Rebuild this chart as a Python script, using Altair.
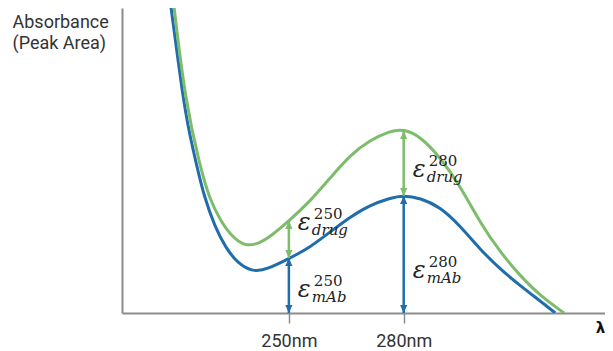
import altair as alt
import pandas as pd

# ---- data ----
wavelength_mab = [219.2, 222.4, 224.0, 226.0, 227.9, 230.7, 233.4, 236.5, 240.7, 244.3,
                  250.3, 255.6, 260.8, 266.0, 271.2, 276.5, 279.9, 284.3, 289.5, 294.8,
                  300.0, 305.2, 310.5, 315.7, 319.6]
absorbance_mab = [100.3, 69.8, 59.0, 47.9, 38.0, 28.2, 21.6, 16.4, 13.4, 14.3,
                  18.0, 21.6, 26.6, 31.5, 35.4, 37.7, 38.6, 37.7, 34.8, 28.5,
                  20.8, 14.4, 8.9, 3.9, 0.0]

wavelength_adc = [220.0, 222.9, 226.8, 229.4, 232.1, 234.7, 238.6, 242.5, 245.1,
                  250.3, 255.6, 260.8, 266.0, 271.2, 276.5, 279.9, 284.3, 289.5,
                  294.8, 300.0, 305.2, 310.5, 315.7, 321.9]
absorbance_adc = [100.3, 69.8, 47.9, 37.0, 30.5, 25.6, 21.6, 23.0, 25.0,
                  30.5, 36.7, 44.3, 51.8, 56.7, 59.7, 60.3, 58.0, 51.1,
                  41.6, 29.5, 20.0, 12.1, 5.6, 0.0]

arrow_wavelength = [250, 250, 280, 280]
arrow_from = [0.0, 18.0, 0.0, 38.4]
arrow_to = [18.0, 30.2, 38.4, 59.7]
arrow_series = ["mAb", "drug", "mAb", "drug"]

label_wavelength = [250, 250, 280, 280]
label_y = [27.2, 5.2, 44.6, 11.5]
label_sup = ["250", "250", "280", "280"]
label_sub = ["drug", "mAb", "drug", "mAb"]

tick_values = [250, 280]

BLUE = "#1f6dab"
GREEN = "#7dbc6b"
AXIS_GREY = "#8c8c8c"
MATH_FONT = "DejaVu Serif"

curves = pd.concat([
    pd.DataFrame({"wl": wavelength_mab, "abs": absorbance_mab, "series": "mAb", "order": 0}),
    pd.DataFrame({"wl": wavelength_adc, "abs": absorbance_adc, "series": "drug", "order": 1}),
])
arrows = pd.DataFrame({"wl": arrow_wavelength, "y0": arrow_from, "y1": arrow_to,
                       "series": arrow_series})
labels = pd.DataFrame({"wl": label_wavelength, "y": label_y, "eps": "ε",
                       "sup": label_sup, "sub": label_sub})

xscale = alt.Scale(domain=[206.4, 332.6], nice=False, zero=False)
yscale = alt.Scale(domain=[0, 100], nice=False)
color = alt.Color("series:N", scale=alt.Scale(domain=["mAb", "drug"], range=[BLUE, GREEN]),
                  legend=None)

xaxis = alt.Axis(values=tick_values, labelExpr="datum.value + 'nm'", grid=False,
                 tickSize=10, tickColor=AXIS_GREY, tickWidth=1.5,
                 domainColor=AXIS_GREY, domainWidth=2,
                 labelFont="Roboto", labelFontSize=18, labelColor="#333333", labelPadding=9,
                 title="λ", titleX=478, titleY=19, titleAlign="center",
                 titleBaseline="alphabetic", titleFontSize=15, titleFontWeight="bold",
                 titleColor="#111111", titleFont="DejaVu Sans")
yaxis = alt.Axis(ticks=False, labels=False, grid=False,
                 domainColor=AXIS_GREY, domainWidth=2,
                 title=["Absorbance", "(Peak Area)"], titleAngle=0, titleAlign="left",
                 titleBaseline="alphabetic", titleX=-110, titleY=19,
                 titleFont="Roboto", titleFontSize=18, titleFontWeight="normal",
                 titleColor="#333333", titleLineHeight=21)

x = alt.X("wl:Q", scale=xscale, axis=xaxis)
y = alt.Y("abs:Q", scale=yscale, axis=yaxis)

lines = alt.Chart(curves).mark_line(interpolate="basis", strokeWidth=3, clip=True).encode(
    x=x, y=y, color=color, detail="series:N", order="order:Q"
)

rules = alt.Chart(arrows).mark_rule(strokeWidth=2.5).encode(
    x=alt.X("wl:Q", scale=xscale), y=alt.Y("y0:Q", scale=yscale), y2="y1:Q", color=color
)
head_up = alt.Chart(arrows).mark_point(shape="M0,0L-0.45,1L0.45,1Z", filled=True,
                                       size=256, opacity=1).encode(
    x=alt.X("wl:Q", scale=xscale), y=alt.Y("y1:Q", scale=yscale), color=color
)
head_down = alt.Chart(arrows).mark_point(shape="M0,0L-0.45,-1L0.45,-1Z", filled=True,
                                         size=256, opacity=1).encode(
    x=alt.X("wl:Q", scale=xscale), y=alt.Y("y0:Q", scale=yscale), color=color
)

eps = alt.Chart(labels).mark_text(align="left", baseline="alphabetic", dx=9,
                                  font=MATH_FONT, fontStyle="italic",
                                  fontSize=24, color="#222222").encode(
    x=alt.X("wl:Q", scale=xscale), y=alt.Y("y:Q", scale=yscale), text="eps:N"
)
sup = alt.Chart(labels).mark_text(align="left", baseline="alphabetic", dx=25, dy=-11,
                                  font=MATH_FONT, fontSize=15,
                                  color="#222222").encode(
    x=alt.X("wl:Q", scale=xscale), y=alt.Y("y:Q", scale=yscale), text="sup:N"
)
sub = alt.Chart(labels).mark_text(align="left", baseline="alphabetic", dx=23, dy=5,
                                  font=MATH_FONT, fontStyle="italic",
                                  fontSize=15, color="#222222").encode(
    x=alt.X("wl:Q", scale=xscale), y=alt.Y("y:Q", scale=yscale), text="sub:N"
)

chart = alt.layer(lines, rules, head_up, head_down, eps, sup, sub).properties(
    width=483, height=305,
    autosize=alt.AutoSizeParams(type="none"),
    padding={"left": 114, "top": 0, "right": 0, "bottom": 37},
    background="white",
).configure_view(stroke=None)

chart.save("out.html", embed_options={"renderer": "svg", "actions": False})
